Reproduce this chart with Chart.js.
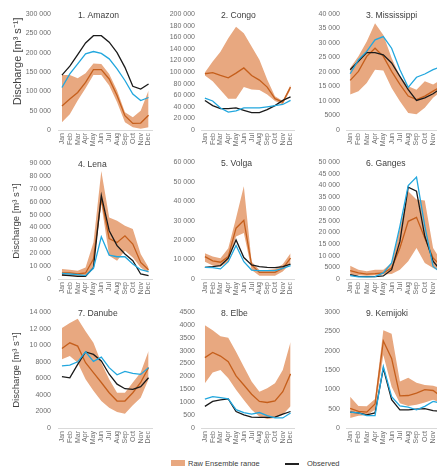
<!DOCTYPE html>
<html>
<head>
<meta charset="utf-8">
<script src="https://cdn.jsdelivr.net/npm/chart.js@4.4.1/dist/chart.umd.min.js"></script>
<style>
  html, body { margin: 0; padding: 0; width: 437px; height: 466px; overflow: hidden; background: #fff; }
  body { position: relative; font-family: "Liberation Sans", Arial, sans-serif; }
  canvas { position: absolute; }
  .lg { position: absolute; }
  .lgtext { font-size: 7.5px; color: #404040; line-height: 9px; white-space: nowrap; }
</style>
</head>
<body>

<span class="lg" style="left:171px;top:460px;width:14px;height:6px;background:#e8a880"></span>
<span class="lg lgtext" style="left:188px;top:459px">Raw Ensemble range</span>
<span class="lg" style="left:285px;top:463px;width:14px;height:1.5px;background:#222"></span>
<span class="lg lgtext" style="left:307px;top:459px">Observed</span>

<script>
const months = ['Jan', 'Feb', 'Mar', 'Apr', 'May', 'Jun', 'Jul', 'Aug', 'Sep', 'Oct', 'Nov', 'Dec'];

// 1. Amazon
const amazonMin  = [20000, 41000, 76000, 108000, 142000, 142000, 115000, 72000, 20000, 7000, 3000, 7000];
const amazonMax  = [142000, 142000, 134000, 147000, 172000, 171000, 145000, 102000, 46000, 33000, 50000, 102000];
const amazonMean = [62000, 80000, 97000, 123000, 156000, 156000, 132000, 89000, 37000, 17000, 18000, 38000];
const amazonObs  = [142000, 165000, 195000, 225000, 244000, 244000, 227000, 200000, 162000, 113000, 106000, 119000];
const amazonSim  = [110000, 145000, 171000, 197000, 203000, 198000, 184000, 158000, 128000, 93000, 76000, 84000];

// 2. Congo
const congoMin  = [94000, 84000, 69000, 54000, 54000, 74000, 70000, 69000, 61000, 50000, 44000, 70000];
const congoMax  = [99000, 118000, 135000, 158000, 178000, 167000, 144000, 121000, 87000, 58000, 50000, 78000];
const congoMean = [97000, 99000, 94000, 90000, 98000, 107000, 94000, 86000, 74000, 54000, 48000, 74000];
const congoObs  = [51000, 42000, 37000, 37000, 38000, 34000, 30000, 30000, 35000, 42000, 51000, 57000];
const congoSim  = [55000, 50000, 38000, 31000, 33000, 38000, 38000, 38000, 40000, 42000, 44000, 51000];

// 3. Mississippi
const missMin  = [12200, 13400, 16200, 20800, 20500, 14500, 9900, 5900, 5400, 7700, 11100, 13400];
const missMax  = [21400, 25400, 30500, 36800, 32800, 24800, 18500, 15100, 13900, 16800, 15700, 17400];
const missMean = [17100, 20200, 25400, 28200, 25400, 20200, 15700, 11700, 10500, 11700, 13400, 15100];
const missObs  = [20800, 23700, 26700, 26700, 25900, 23100, 18500, 13900, 10200, 11100, 12500, 14500];
const missSim  = [19400, 24200, 27100, 31100, 32200, 28200, 20800, 14700, 18200, 19300, 20800, 21900];

// 4. Lena
const lenaMin  = [2600, 2600, 2100, 2600, 10300, 58000, 18100, 14200, 22000, 16800, 9000, 4700];
const lenaMax  = [7800, 7200, 6500, 9000, 28400, 84000, 47800, 45300, 41400, 38800, 19400, 9000];
const lenaMean = [4700, 4700, 3900, 4700, 15500, 62600, 31500, 28400, 33600, 27200, 12900, 7200];
const lenaObs  = [3100, 2600, 2100, 2100, 9000, 65000, 37500, 25900, 19400, 14200, 3900, 2600];
const lenaSim  = [4400, 3900, 3400, 2600, 8300, 32800, 18600, 17300, 17300, 11600, 7200, 5700];

// 5. Volga
const volgaMin  = [8900, 6900, 6400, 8900, 21800, 23600, 4600, 1700, 1700, 1700, 3800, 8100];
const volgaMax  = [13200, 11500, 10700, 15800, 31300, 47600, 8900, 4600, 4600, 5200, 7600, 13200];
const volgaMean = [11500, 9300, 8600, 11500, 26100, 30100, 7200, 3400, 3400, 3400, 5500, 10700];
const volgaObs  = [6000, 6400, 6900, 10700, 20100, 11000, 7200, 6400, 6000, 5800, 6400, 7700];
const volgaSim  = [6000, 5800, 5200, 8900, 17200, 8900, 4600, 4300, 4300, 4300, 5500, 6900];

// 6. Ganges
const gangesMin  = [1900, 1600, 1400, 1600, 1900, 2100, 4000, 7600, 13300, 6900, 4700, 3000];
const gangesMax  = [5700, 4000, 3300, 4000, 4000, 6900, 21900, 37600, 34000, 33600, 13300, 7600];
const gangesMean = [3600, 2600, 2100, 2300, 2600, 4700, 13300, 24700, 26400, 17600, 9000, 5400];
const gangesObs  = [1900, 1100, 1000, 1000, 1300, 4000, 16100, 39300, 37600, 18300, 7600, 3300];
const gangesSim  = [1400, 900, 900, 1000, 2600, 6900, 22600, 40000, 43600, 22600, 5400, 2600];

// 7. Danube
const danubeMin  = [8300, 8700, 7900, 5900, 4500, 3260, 2450, 1930, 1730, 2740, 3660, 5900];
const danubeMax  = [12100, 12700, 13200, 11700, 10300, 7900, 5900, 4260, 4260, 5500, 6700, 9300];
const danubeMean = [9600, 10300, 9900, 7900, 6700, 5500, 4260, 3260, 3260, 4260, 5500, 7300];
const danubeObs  = [6200, 6070, 7700, 9200, 8900, 8100, 6500, 5300, 4750, 4670, 5000, 6070];
const danubeSim  = [7500, 7600, 8000, 9200, 8050, 8570, 7300, 6440, 6840, 6600, 6480, 7300];

// 8. Elbe
const elbeMin  = [1740, 2150, 2250, 1930, 1480, 1090, 710, 450, 350, 390, 510, 840];
const elbeMax  = [3990, 3790, 3560, 3500, 2960, 2380, 1800, 1410, 1540, 1740, 2250, 3340];
const elbeMean = [2730, 2930, 2790, 2570, 2020, 1670, 1310, 1030, 990, 1050, 1410, 2100];
const elbeObs  = [840, 1030, 1090, 1130, 640, 510, 420, 410, 410, 420, 540, 640];
const elbeSim  = [1120, 1220, 1180, 1130, 710, 600, 540, 600, 480, 390, 390, 580];

// 9. Kemijoki
const kemiMin  = [260, 320, 330, 470, 1890, 1070, 640, 570, 600, 660, 730, 640];
const kemiMax  = [810, 570, 560, 750, 2530, 2440, 1200, 1300, 1170, 1110, 1090, 1030];
const kemiMean = [510, 430, 410, 620, 2250, 1800, 830, 840, 900, 990, 970, 810];
const kemiObs  = [410, 390, 340, 390, 1540, 730, 470, 470, 490, 500, 450, 430];
const kemiSim  = [410, 390, 320, 320, 1590, 810, 570, 540, 470, 560, 690, 640];

const titles = ['1. Amazon', '2. Congo', '3. Mississippi', '4. Lena', '5. Volga', '6. Ganges', '7. Danube', '8. Elbe', '9. Kemijoki'];
const yMaxes = [300000, 200000, 40000, 90000, 60000, 50000, 14000, 4500, 3000];
const ySteps = [50000, 20000, 5000, 10000, 10000, 5000, 2000, 500, 500];

const rivers = [
  [amazonMin, amazonMax, amazonMean, amazonObs, amazonSim],
  [congoMin, congoMax, congoMean, congoObs, congoSim],
  [missMin, missMax, missMean, missObs, missSim],
  [lenaMin, lenaMax, lenaMean, lenaObs, lenaSim],
  [volgaMin, volgaMax, volgaMean, volgaObs, volgaSim],
  [gangesMin, gangesMax, gangesMean, gangesObs, gangesSim],
  [danubeMin, danubeMax, danubeMean, danubeObs, danubeSim],
  [elbeMin, elbeMax, elbeMean, elbeObs, elbeSim],
  [kemiMin, kemiMax, kemiMean, kemiObs, kemiSim]
];

// panel layout (pixels)
const cols = [
  { x: 0,   yw: 58, w: 101, pr: 1 },
  { x: 160, yw: 41, w: 100, pr: 1 },
  { x: 302, yw: 44, w: 102, pr: 5 }
];
// yt = axis title size, lead = leading spaces to nudge the top row's title up
const rows = [
  { y: 0,   pt: 14, h: 116, yt: 11,  lead: 7 },
  { y: 152, pt: 10, h: 117, yt: 9.5, lead: 0 },
  { y: 301, pt: 11, h: 116, yt: 9.5, lead: 0 }
];
const xAxisH = 22;

const FONT = '"Liberation Sans", Arial, sans-serif';
const BAND = '#e8a880';
const ORANGE = '#c55f1c';
const BLACK = '#1a1a1a';
const BLUE = '#22a7de';

function fmt(v) {
  return v >= 10000 ? String(v).replace(/\B(?=(\d{3})+(?!\d))/g, ' ') : String(v);
}

const panelTitle = {
  id: 'panelTitle',
  afterDraw(chart, args, opts) {
    const ctx = chart.ctx, area = chart.chartArea;
    ctx.save();
    ctx.font = '8.6px ' + FONT;
    ctx.fillStyle = '#404040';
    ctx.textAlign = 'left';
    ctx.textBaseline = 'middle';
    ctx.fillText(opts.text, area.left + 20, area.top + 1.5);
    ctx.restore();
  }
};

rivers.forEach(function (r, i) {
  const col = cols[i % 3], row = rows[Math.floor(i / 3)];
  const cv = document.createElement('canvas');
  cv.width = col.yw + col.w + col.pr;
  cv.height = row.pt + row.h + xAxisH;
  cv.style.left = col.x + 'px';
  cv.style.top = row.y + 'px';
  cv.style.width = cv.width + 'px';
  cv.style.height = cv.height + 'px';
  document.body.appendChild(cv);

  new Chart(cv, {
    type: 'line',
    data: {
      labels: months,
      datasets: [
        { label: 'Raw Ensemble min', data: r[0], borderWidth: 0, pointRadius: 0, fill: false, order: 5 },
        { label: 'Raw Ensemble range', data: r[1], borderWidth: 0, pointRadius: 0, fill: '-1', backgroundColor: BAND, order: 4 },
        { label: 'Raw Ensemble mean', data: r[2], borderColor: ORANGE, borderWidth: 1.3, pointRadius: 0, fill: false, order: 3 },
        { label: 'Observed', data: r[3], borderColor: BLACK, borderWidth: 1.3, pointRadius: 0, fill: false, order: 2 },
        { label: 'Simulated', data: r[4], borderColor: BLUE, borderWidth: 1.3, pointRadius: 0, fill: false, order: 1 }
      ]
    },
    options: {
      responsive: false,
      animation: false,
      layout: { padding: { left: 0, top: row.pt, right: col.pr, bottom: 0 } },
      elements: { line: { tension: 0 } },
      plugins: {
        legend: { display: false },
        tooltip: { enabled: false },
        panelTitle: { text: titles[i] }
      },
      scales: {
        x: {
          offset: true,
          grid: { display: true, drawOnChartArea: false, drawTicks: false },
          border: { display: true, color: '#d9d9d9', width: 1 },
          ticks: {
            autoSkip: false, minRotation: 90, maxRotation: 90, padding: 3,
            color: '#6e6e6e', font: { size: 7, family: FONT }
          },
          afterFit: function (s) { s.height = xAxisH; }
        },
        y: {
          min: 0,
          max: yMaxes[i],
          grid: { display: false, drawTicks: false },
          border: { display: false },
          ticks: {
            stepSize: ySteps[i], autoSkip: false, padding: i % 3 === 0 ? 7 : 6,
            color: '#6e6e6e', font: { size: 7, family: FONT },
            callback: function (v) { return fmt(v); }
          },
          title: {
            display: i % 3 === 0,
            text: '\u00a0'.repeat(row.lead) + 'Discharge [m³ s⁻¹]',
            color: '#404040',
            padding: { top: 11, bottom: 0 },
            font: { size: row.yt, family: FONT }
          },
          afterFit: function (s) { s.width = col.yw; }
        }
      }
    },
    plugins: [panelTitle]
  });
});
</script>
</body>
</html>
